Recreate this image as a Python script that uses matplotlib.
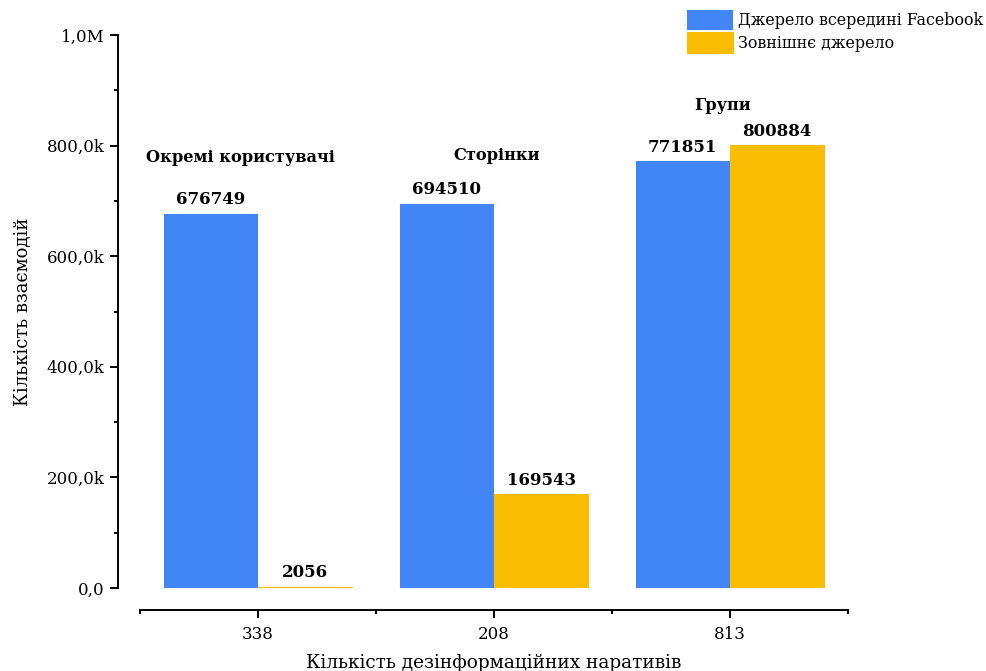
import matplotlib
matplotlib.use("Agg")
import matplotlib.pyplot as plt
from matplotlib.ticker import FixedLocator, MultipleLocator
import numpy as np

# Data
categories = ["338", "208", "813"]
group_names = ["Окремі користувачі", "Сторінки", "Групи"]
inside_fb = [676749, 694510, 771851]
external = [2056, 169543, 800884]
series_names = ["Джерело всередині Facebook", "Зовнішнє джерело"]
y_tick_values = [0, 200000, 400000, 600000, 800000, 1000000]
y_tick_labels = ["0,0", "200,0k", "400,0k", "600,0k", "800,0k", "1,0M"]
group_label_y = [779000, 783000, 872000]
group_label_x = [-0.076, 1.01, 1.97]

BLUE = "#4285F4"
YELLOW = "#FBBC04"

plt.rcParams["font.family"] = ["DejaVu Serif"]

fig = plt.figure(figsize=(9.86, 6.71), dpi=100)
ax = fig.add_axes([140 / 986, (671 - 588) / 671, 708 / 986, 553 / 671])

x = np.arange(len(categories))
w = 0.4
b1 = ax.bar(x - w / 2, inside_fb, width=w, color=BLUE, label=series_names[0])
b2 = ax.bar(x + w / 2, external, width=w, color=YELLOW,
            edgecolor=YELLOW, linewidth=0.8, label=series_names[1])

for bars, vals in ((b1, inside_fb), (b2, external)):
    for rect, v in zip(bars, vals):
        ax.annotate(f"{v}", (rect.get_x() + rect.get_width() / 2, v),
                    xytext=(0, 4), textcoords="offset points",
                    ha="center", va="bottom", fontsize=12, fontweight="bold")

for gx, gy, name in zip(group_label_x, group_label_y, group_names):
    ax.text(gx, gy, name, ha="center", va="center", fontsize=11.7,
            fontweight="bold")

ax.set_xlim(-0.5, 2.5)
ax.set_ylim(0, 1000000)

# Detached axis lines
for s in ("top", "right"):
    ax.spines[s].set_visible(False)
ax.spines["left"].set_position(("outward", 16))
ax.spines["bottom"].set_position(("outward", 16))
ax.spines["left"].set_linewidth(1.4)
ax.spines["bottom"].set_linewidth(1.4)
ax.spines["left"].set_bounds(0, 1000000)

ax.set_xticks(x)
ax.set_xticklabels(categories)
ax.xaxis.set_minor_locator(FixedLocator([-0.5, 0.5, 1.5, 2.5]))
ax.set_yticks(y_tick_values)
ax.set_yticklabels(y_tick_labels)
ax.yaxis.set_minor_locator(MultipleLocator(100000))

ax.tick_params(axis="both", which="major", labelsize=12, width=1.4,
               length=5.5, direction="out", pad=4)
ax.tick_params(axis="x", which="major", pad=6)
ax.tick_params(axis="both", which="minor", width=1.4, length=3,
               direction="out")

ax.set_ylabel("Кількість взаємодій", fontsize=13, labelpad=11)
ax.set_xlabel("Кількість дезінформаційних наративів", fontsize=13.3,
              labelpad=8)

fig.legend(handles=[b1, b2], labels=series_names,
           loc="upper left", bbox_to_anchor=(687 / 986, 1 - 10 / 671),
           frameon=False, fontsize=11.4, handlelength=2.9,
           handleheight=1.6, labelspacing=0.12, handletextpad=0.3,
           borderpad=0, borderaxespad=0)

fig.savefig("out.png", dpi=100)
